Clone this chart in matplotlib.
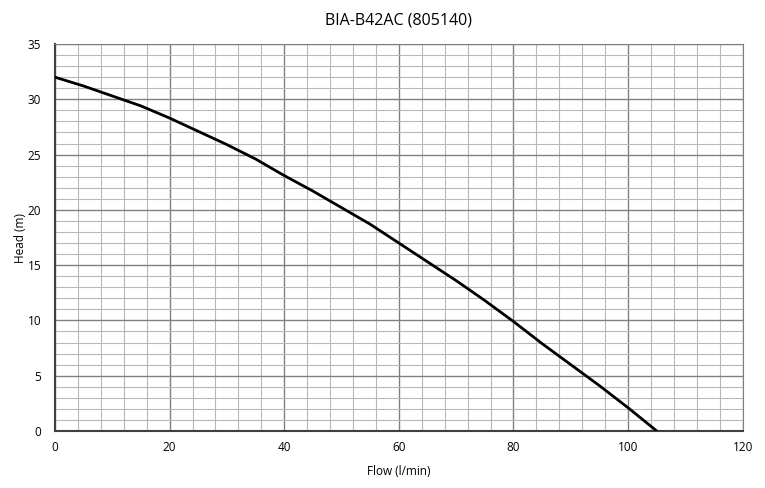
import matplotlib.pyplot as plt
import numpy as np

# pump curve
flow = [0, 5, 10, 15, 20, 25, 30, 35, 40, 45, 50, 55, 60, 65, 70, 75, 80, 85, 90, 95, 100, 105]
head = [32.0, 31.2, 30.3, 29.4, 28.3, 27.1, 25.9, 24.6, 23.1, 21.7, 20.2, 18.7, 17.0, 15.3, 13.6, 11.8, 9.9, 7.9, 6.0, 4.1, 2.1, 0.0]

plt.rcParams['font.family'] = ['Open Sans', 'DejaVu Sans']

fig = plt.figure(figsize=(7.65, 4.88), dpi=100)
ax = fig.add_axes([0.0719, 0.1168, 0.899, 0.793])

ax.plot(flow, head, color='black', lw=2.0, zorder=3)

ax.set_xlim(0, 120)
ax.set_ylim(0, 35)
ax.set_xticks(np.arange(0, 121, 20))
ax.set_yticks(np.arange(0, 36, 5))
ax.set_xticks(np.arange(0, 121, 4), minor=True)
ax.set_yticks(np.arange(0, 36, 1), minor=True)
ax.grid(which='major', color='#808080', lw=1.0)
ax.grid(which='minor', color='#b8b8b8', lw=0.8)
ax.tick_params(which='both', length=0, labelsize=8.5)
ax.tick_params(axis='y', pad=10)
ax.tick_params(axis='x', pad=7)

for s in ax.spines.values():
    s.set_color('#808080')
ax.spines['left'].set_color('#404040')
ax.spines['bottom'].set_color('#404040')
ax.spines['left'].set_linewidth(1.5)
ax.spines['bottom'].set_linewidth(1.5)

ax.set_title('BIA-B42AC (805140)', fontsize=11.5, pad=14)
ax.set_xlabel('Flow (l/min)', fontsize=8.5, labelpad=8)
ax.set_ylabel('Head (m)', fontsize=8.5, labelpad=0)

fig.savefig('out.png', dpi=100)
